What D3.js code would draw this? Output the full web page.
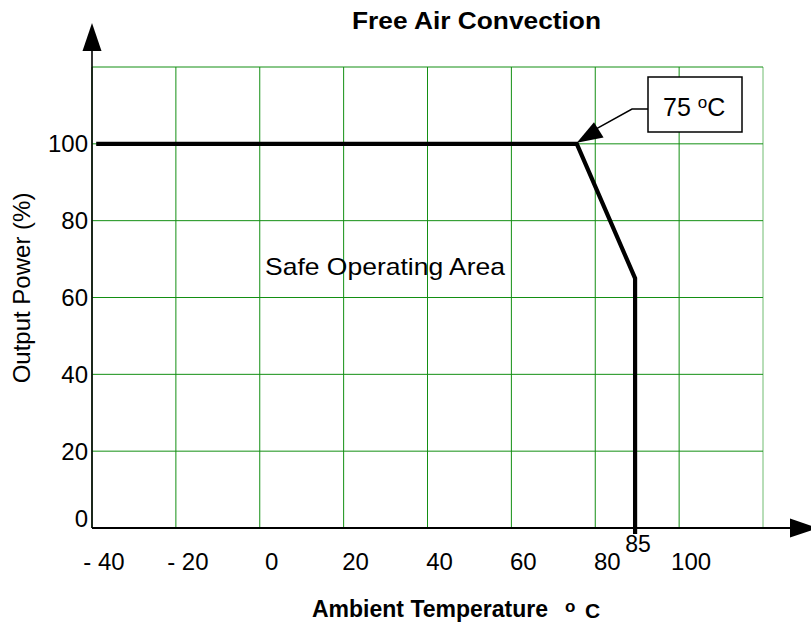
<!DOCTYPE html>
<html>
<head>
<meta charset="utf-8">
<script src="https://cdn.jsdelivr.net/npm/d3@7"></script>
<style>
  html, body { margin: 0; padding: 0; background: #fff; }
  svg { display: block; }
  text { font-family: "Liberation Sans", Arial, sans-serif; fill: #000; }
</style>
</head>
<body>
<svg id="chart" width="811" height="624"></svg>
<script>
// ---- data ----
const xGridTicks = [-40, -20, 0, 20, 40, 60, 80, 100, 120];
const xTickValues = [-40, -20, 0, 20, 40, 60, 80, 100];
const xTickLabels = ["- 40", "- 20", "0", "20", "40", "60", "80", "100"];
const yGridTicks = [0, 20, 40, 60, 80, 100, 120];
const yTickValues = [0, 20, 40, 60, 80, 100];
const yTickLabels = ["0", "20", "40", "60", "80", "100"];
const curveTemp = [-39, 75.6, 89.5, 89.5];
const curvePower = [100, 100, 65, 0];
const kneeIndex = 1;
const kneeLabel = "75";
const dropLabel = "85";
const titleText = "Free Air Convection";
const xTitleText = "Ambient Temperature";
const yTitleText = "Output Power (%)";
const areaLabel = "Safe Operating Area";

// ---- scales ----
const svg = d3.select("#chart");
const x = d3.scaleLinear().domain([-40, 120]).range([92, 763]);
const y = d3.scaleLinear().domain([0, 120]).range([528, 67]);
const grid = "#138f13";

// grid lines
svg.append("g").selectAll("line.v").data(xGridTicks).join("line")
  .attr("x1", d => x(d)).attr("x2", d => x(d))
  .attr("y1", y(0)).attr("y2", y(120))
  .attr("stroke", grid).attr("stroke-width", 1)
  .attr("stroke-opacity", (d, i) => i === xGridTicks.length - 1 ? 0.6 : 1);
svg.append("g").selectAll("line.h").data(yGridTicks).join("line")
  .attr("x1", x(-40)).attr("x2", x(120))
  .attr("y1", d => y(d)).attr("y2", d => y(d))
  .attr("stroke", grid).attr("stroke-width", 1);

// axes (black) with arrows
const axisTop = y(120) - 8;
svg.append("line").attr("x1", x(-40)).attr("x2", x(-40))
  .attr("y1", y(0)).attr("y2", axisTop - 20)
  .attr("stroke", "#000").attr("stroke-width", 1.6);
svg.append("path")
  .attr("d", `M${x(-40)},${axisTop - 36} L${x(-40) - 9.5},${axisTop - 8} L${x(-40) + 9.5},${axisTop - 8} Z`)
  .attr("fill", "#000");
const axisRight = x(120) + 27;
svg.append("line").attr("x1", x(-40)).attr("x2", axisRight)
  .attr("y1", y(0)).attr("y2", y(0))
  .attr("stroke", "#000").attr("stroke-width", 1.8);
svg.append("path")
  .attr("d", `M${axisRight + 28},${y(0)} L${axisRight},${y(0) - 9.5} L${axisRight},${y(0) + 9.5} Z`)
  .attr("fill", "#000");

// x tick labels
svg.append("g").selectAll("text").data(xTickValues).join("text")
  .attr("x", d => x(d) + 12).attr("y", 570)
  .attr("text-anchor", "middle").attr("font-size", 24)
  .text((d, i) => xTickLabels[i]);

// y tick labels
svg.append("g").selectAll("text").data(yTickValues).join("text")
  .attr("x", 88).attr("y", d => y(d))
  .attr("dy", d => d === 0 ? "-0.05em" : "0.35em")
  .attr("text-anchor", "end").attr("font-size", 24)
  .text((d, i) => yTickLabels[i]);

// derating curve
const pts = curveTemp.map((t, i) => [t, curvePower[i]]);
const line = d3.line().x(d => x(d[0])).y(d => y(d[1]));
svg.append("path").datum(pts)
  .attr("d", line)
  .attr("fill", "none").attr("stroke", "#000").attr("stroke-width", 4.2)
  .attr("stroke-linejoin", "miter");
// extension of the vertical drop below the axis
const dropT = curveTemp[curveTemp.length - 1];
svg.append("line").attr("x1", x(dropT)).attr("x2", x(dropT))
  .attr("y1", y(0)).attr("y2", y(0) + 6)
  .attr("stroke", "#000").attr("stroke-width", 4.2);
svg.append("text").attr("x", x(dropT) + 3).attr("y", 552)
  .attr("text-anchor", "middle").attr("font-size", 23).text(dropLabel);

// callout for knee
const kx = x(curveTemp[kneeIndex]), ky = y(curvePower[kneeIndex]);
const boxX = 648, boxY = 77, boxW = 94, boxH = 55;
svg.append("path")
  .attr("d", `M${boxX},${boxY + 32} L${boxX - 16},${boxY + 32} L${kx + 14},${ky - 12}`)
  .attr("fill", "none").attr("stroke", "#000").attr("stroke-width", 1.5);
// arrow head
const ang = Math.atan2((boxY + 32) - ky, (boxX - 16) - kx);
const hl = 26, hw = 9;
const bx = kx + hl * Math.cos(ang), by = ky + hl * Math.sin(ang);
const px = -Math.sin(ang) * hw, py = Math.cos(ang) * hw;
svg.append("path")
  .attr("d", `M${kx},${ky - 1} L${bx + px},${by + py} L${bx - px},${by - py} Z`)
  .attr("fill", "#000");
svg.append("rect").attr("x", boxX).attr("y", boxY).attr("width", boxW).attr("height", boxH)
  .attr("fill", "#fff").attr("stroke", "#000").attr("stroke-width", 1.5);
const ct = svg.append("text").attr("x", 663).attr("y", 116).attr("font-size", 25);
ct.append("tspan").text(kneeLabel + " ");
ct.append("tspan").attr("font-size", 17).attr("dy", -8).text("o");
ct.append("tspan").attr("dy", 8).text("C");

// area label
svg.append("text").attr("x", 265).attr("y", 275).attr("font-size", 24)
  .attr("textLength", 240).attr("lengthAdjust", "spacingAndGlyphs")
  .text(areaLabel);

// titles
svg.append("text").attr("x", 352).attr("y", 29)
  .attr("font-size", 23).attr("font-weight", "bold")
  .attr("textLength", 249).attr("lengthAdjust", "spacingAndGlyphs")
  .text(titleText);

const xt = svg.append("text").attr("x", 312).attr("y", 617)
  .attr("font-size", 23).attr("font-weight", "bold");
xt.append("tspan").text(xTitleText);
xt.append("tspan").attr("x", 565).attr("dy", -5).attr("font-size", 17).text("o");
xt.append("tspan").attr("x", 585).attr("dy", 6).attr("font-size", 21).text("C");

svg.append("text")
  .attr("transform", "translate(30,288) rotate(-90)")
  .attr("text-anchor", "middle").attr("font-size", 24)
  .text(yTitleText);
</script>
</body>
</html>
